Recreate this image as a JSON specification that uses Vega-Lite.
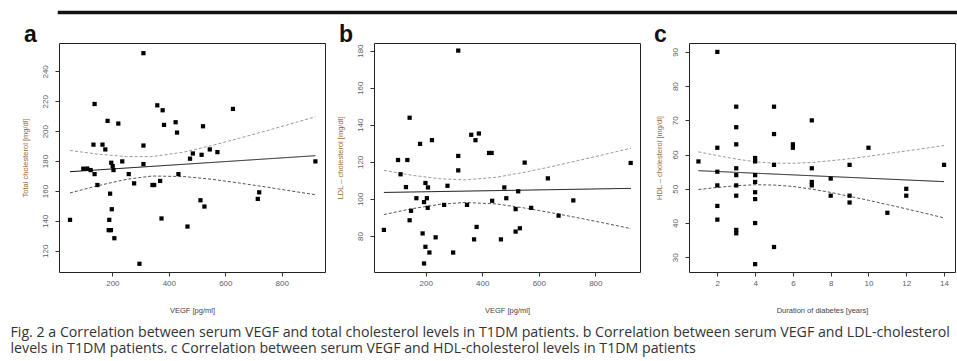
{
  "$schema": "https://vega.github.io/schema/vega-lite/v6.json",
  "autosize": {"type": "pad"},
  "padding": {"left": 10, "top": 10, "right": 0, "bottom": 4},
  "background": "white",
  "spacing": 8,
  "title": {
    "text": ["Fig. 2 a Correlation between serum VEGF and total cholesterol levels in T1DM patients. b Correlation between serum VEGF and LDL-cholesterol", "levels in T1DM patients. c Correlation between serum VEGF and HDL-cholesterol levels in T1DM patients"],
    "orient": "bottom",
    "anchor": "start",
    "frame": "bounds",
    "dx": -10,
    "offset": 7,
    "font": "Open Sans",
    "fontSize": 14.2,
    "fontWeight": "normal",
    "color": "#333333",
    "lineHeight": 16
  },
  "config": {
    "view": {"stroke": "#222", "strokeWidth": 1},
    "axis": {
      "grid": false,
      "domain": false,
      "ticks": true,
      "tickColor": "#333",
      "tickSize": 4,
      "tickCount": 20,
      "format": "d",
      "labelOverlap": false,
      "labelFont": "Liberation Sans",
      "labelFontSize": 8,
      "labelColor": "#5a6070",
      "titleFont": "Liberation Sans",
      "titleFontSize": 7.5,
      "titleFontWeight": "normal"
    },
    "axisX": {"labelPadding": 3, "titlePadding": 19, "titleColor": "#444"},
    "axisY": {"labelAngle": -90, "labelAlign": "center", "labelBaseline": "bottom", "labelPadding": 6, "titlePadding": 12, "titleColor": "#9a6a35"},
    "title": {"anchor": "start", "frame": "group", "dx": -35, "dy": 5, "fontSize": 23, "fontWeight": "bold", "font": "Liberation Sans", "color": "#111", "baseline": "alphabetic", "offset": 1}
  },
  "datasets": {
    "a_pts": [
      {"x": 50, "y": 140.7}, {"x": 97, "y": 174.9}, {"x": 111, "y": 175}, {"x": 123, "y": 174}, {"x": 133, "y": 191},
      {"x": 137, "y": 218.2}, {"x": 137, "y": 171.3}, {"x": 147, "y": 164}, {"x": 165, "y": 191}, {"x": 175, "y": 187.8},
      {"x": 183, "y": 206.9}, {"x": 192, "y": 158.2}, {"x": 196, "y": 178.9}, {"x": 198, "y": 147.8}, {"x": 189, "y": 140.7},
      {"x": 187, "y": 133.8}, {"x": 195, "y": 133.8}, {"x": 201, "y": 176.7}, {"x": 204, "y": 174}, {"x": 207, "y": 128.4},
      {"x": 221, "y": 205.1}, {"x": 235, "y": 179.8}, {"x": 258, "y": 171.3}, {"x": 277, "y": 165.1}, {"x": 296, "y": 111.3},
      {"x": 310, "y": 252.2}, {"x": 310, "y": 190.4}, {"x": 310, "y": 178}, {"x": 342, "y": 164}, {"x": 348, "y": 164},
      {"x": 359, "y": 217.3}, {"x": 369, "y": 166.7}, {"x": 374, "y": 141.6}, {"x": 378, "y": 214}, {"x": 383, "y": 204.2},
      {"x": 424, "y": 206}, {"x": 429, "y": 199.1}, {"x": 434, "y": 171.3}, {"x": 466, "y": 136.2}, {"x": 475, "y": 181.6},
      {"x": 485, "y": 185.1}, {"x": 512, "y": 153.8}, {"x": 516, "y": 184.2}, {"x": 521, "y": 203.3}, {"x": 526, "y": 149.6},
      {"x": 545, "y": 187.8}, {"x": 572, "y": 186}, {"x": 627, "y": 214.9}, {"x": 715, "y": 154.7}, {"x": 720, "y": 159.1},
      {"x": 919, "y": 179.8}
    ],
    "a_lines": [
      {"x": 50, "y": 172.9, "s": "fit"}, {"x": 919, "y": 183.6, "s": "fit"},
      {"x": 50, "y": 187.1, "s": "upper"}, {"x": 150, "y": 184.6, "s": "upper"}, {"x": 250, "y": 183.0, "s": "upper"}, {"x": 340, "y": 183.0, "s": "upper"}, {"x": 450, "y": 185.9, "s": "upper"}, {"x": 550, "y": 190.3, "s": "upper"}, {"x": 650, "y": 195.3, "s": "upper"}, {"x": 750, "y": 200.5, "s": "upper"}, {"x": 850, "y": 205.9, "s": "upper"}, {"x": 919, "y": 209.6, "s": "upper"},
      {"x": 50, "y": 158.7, "s": "lower"}, {"x": 150, "y": 163.6, "s": "lower"}, {"x": 250, "y": 167.8, "s": "lower"}, {"x": 340, "y": 170.0, "s": "lower"}, {"x": 450, "y": 169.7, "s": "lower"}, {"x": 550, "y": 167.9, "s": "lower"}, {"x": 650, "y": 165.3, "s": "lower"}, {"x": 750, "y": 162.5, "s": "lower"}, {"x": 850, "y": 159.5, "s": "lower"}, {"x": 919, "y": 157.5, "s": "lower"}
    ],
    "b_pts": [
      {"x": 52, "y": 83.3}, {"x": 102, "y": 121}, {"x": 111, "y": 113.3}, {"x": 130, "y": 106.4}, {"x": 135, "y": 121},
      {"x": 143, "y": 143.8}, {"x": 143, "y": 88.5}, {"x": 148, "y": 93.6}, {"x": 167, "y": 100.4}, {"x": 180, "y": 129.7},
      {"x": 189, "y": 81.4}, {"x": 194, "y": 98.3}, {"x": 194, "y": 65.2}, {"x": 199, "y": 108.6}, {"x": 199, "y": 74.2},
      {"x": 204, "y": 100.4}, {"x": 207, "y": 95.2}, {"x": 208, "y": 106.2}, {"x": 213, "y": 71.1}, {"x": 222, "y": 131.7},
      {"x": 235, "y": 79.3}, {"x": 265, "y": 96.8}, {"x": 277, "y": 107.1}, {"x": 297, "y": 71.1}, {"x": 315, "y": 180},
      {"x": 315, "y": 123.2}, {"x": 315, "y": 115.4}, {"x": 346, "y": 96.8}, {"x": 361, "y": 134.6}, {"x": 371, "y": 78.2},
      {"x": 376, "y": 131.7}, {"x": 380, "y": 84.9}, {"x": 388, "y": 135.3}, {"x": 424, "y": 124.8}, {"x": 433, "y": 124.8},
      {"x": 435, "y": 99}, {"x": 466, "y": 78.2}, {"x": 478, "y": 106.2}, {"x": 485, "y": 100.4}, {"x": 518, "y": 94.5},
      {"x": 518, "y": 82.4}, {"x": 527, "y": 104.1}, {"x": 533, "y": 84.2}, {"x": 550, "y": 119.6}, {"x": 573, "y": 95.2},
      {"x": 632, "y": 111.1}, {"x": 670, "y": 91.0}, {"x": 722, "y": 99.2}, {"x": 925, "y": 119.4}
    ],
    "b_lines": [
      {"x": 52, "y": 103.5, "s": "fit"}, {"x": 926, "y": 105.7, "s": "fit"},
      {"x": 52, "y": 115.4, "s": "upper"}, {"x": 150, "y": 112.8, "s": "upper"}, {"x": 250, "y": 110.9, "s": "upper"}, {"x": 340, "y": 110.3, "s": "upper"}, {"x": 450, "y": 111.7, "s": "upper"}, {"x": 550, "y": 114.4, "s": "upper"}, {"x": 650, "y": 117.6, "s": "upper"}, {"x": 750, "y": 121.1, "s": "upper"}, {"x": 850, "y": 124.6, "s": "upper"}, {"x": 926, "y": 127.4, "s": "upper"},
      {"x": 52, "y": 91.6, "s": "lower"}, {"x": 150, "y": 94.7, "s": "lower"}, {"x": 250, "y": 97.1, "s": "lower"}, {"x": 340, "y": 98.1, "s": "lower"}, {"x": 450, "y": 97.3, "s": "lower"}, {"x": 550, "y": 95.1, "s": "lower"}, {"x": 650, "y": 92.4, "s": "lower"}, {"x": 750, "y": 89.5, "s": "lower"}, {"x": 850, "y": 86.4, "s": "lower"}, {"x": 926, "y": 84.0, "s": "lower"}
    ],
    "c_pts": [
      {"x": 1, "y": 58}, {"x": 2, "y": 90}, {"x": 2, "y": 62}, {"x": 2, "y": 55}, {"x": 2, "y": 51}, {"x": 2, "y": 45}, {"x": 2, "y": 41},
      {"x": 3, "y": 74}, {"x": 3, "y": 68}, {"x": 3, "y": 63}, {"x": 3, "y": 56}, {"x": 3, "y": 54}, {"x": 3, "y": 51}, {"x": 3, "y": 48}, {"x": 3, "y": 38}, {"x": 3, "y": 37},
      {"x": 4, "y": 59}, {"x": 4, "y": 58}, {"x": 4, "y": 54}, {"x": 4, "y": 52}, {"x": 4, "y": 49}, {"x": 4, "y": 47}, {"x": 4, "y": 40}, {"x": 4, "y": 28},
      {"x": 5, "y": 74}, {"x": 5, "y": 66}, {"x": 5, "y": 57}, {"x": 5, "y": 33},
      {"x": 6, "y": 63}, {"x": 6, "y": 62},
      {"x": 7, "y": 70}, {"x": 7, "y": 56}, {"x": 7, "y": 52}, {"x": 7, "y": 51},
      {"x": 8, "y": 53}, {"x": 8, "y": 48},
      {"x": 9, "y": 57}, {"x": 9, "y": 48}, {"x": 9, "y": 46},
      {"x": 10, "y": 62}, {"x": 11, "y": 43}, {"x": 12, "y": 50}, {"x": 12, "y": 48}, {"x": 14, "y": 57}
    ],
    "c_lines": [
      {"x": 1, "y": 55.3, "s": "fit"}, {"x": 14, "y": 52.1, "s": "fit"},
      {"x": 1, "y": 60.8, "s": "upper"}, {"x": 2, "y": 59.7, "s": "upper"}, {"x": 3, "y": 58.7, "s": "upper"}, {"x": 4, "y": 57.9, "s": "upper"}, {"x": 5, "y": 57.5, "s": "upper"}, {"x": 6, "y": 57.45, "s": "upper"}, {"x": 7, "y": 57.7, "s": "upper"}, {"x": 8, "y": 58.2, "s": "upper"}, {"x": 9, "y": 58.8, "s": "upper"}, {"x": 10, "y": 59.5, "s": "upper"}, {"x": 11, "y": 60.3, "s": "upper"}, {"x": 12, "y": 61.05, "s": "upper"}, {"x": 13, "y": 61.85, "s": "upper"}, {"x": 14, "y": 62.66, "s": "upper"},
      {"x": 1, "y": 49.8, "s": "lower"}, {"x": 2, "y": 50.4, "s": "lower"}, {"x": 3, "y": 50.9, "s": "lower"}, {"x": 4, "y": 51.2, "s": "lower"}, {"x": 5, "y": 51.1, "s": "lower"}, {"x": 6, "y": 50.7, "s": "lower"}, {"x": 7, "y": 49.9, "s": "lower"}, {"x": 8, "y": 48.95, "s": "lower"}, {"x": 9, "y": 47.8, "s": "lower"}, {"x": 10, "y": 46.65, "s": "lower"}, {"x": 11, "y": 45.4, "s": "lower"}, {"x": 12, "y": 44.15, "s": "lower"}, {"x": 13, "y": 42.85, "s": "lower"}, {"x": 14, "y": 41.5, "s": "lower"}
    ]
  },
  "vconcat": [
    {
      "width": 936,
      "height": 1,
      "data": {"values": []},
      "mark": {"type": "rule"},
      "encoding": {},
      "view": {"stroke": "#111", "strokeWidth": 2.5, "fill": "#111"}
    },
    {
      "bounds": "flush",
      "spacing": 49,
      "hconcat": [
        {
          "title": "a",
          "width": 266,
          "height": 229,
          "layer": [
            {
              "data": {"name": "a_lines"},
              "mark": {"type": "line", "strokeWidth": 1},
              "encoding": {
                "x": {"field": "x", "type": "quantitative", "scale": {"domain": [11, 953], "nice": false, "zero": false}, "axis": {"values": [200, 400, 600, 800], "title": "VEGF [pg/ml]"}},
                "y": {"field": "y", "type": "quantitative", "scale": {"domain": [105.8, 259], "nice": false, "zero": false}, "axis": {"values": [120, 140, 160, 180, 200, 220, 240], "title": "Total cholesterol [mg/dl]"}},
                "detail": {"field": "s"},
                "color": {"field": "s", "type": "nominal", "scale": {"domain": ["fit", "upper", "lower"], "range": ["#111111", "#9a9a9a", "#555555"]}, "legend": null},
                "strokeDash": {"field": "s", "type": "nominal", "scale": {"domain": ["fit", "upper", "lower"], "range": [[1, 0], [3, 2], [3, 2]]}, "legend": null}
              }
            },
            {
              "data": {"name": "a_pts"},
              "mark": {"type": "point", "shape": "square", "filled": true, "size": 18, "color": "#000", "opacity": 1},
              "encoding": {
                "x": {"field": "x", "type": "quantitative"},
                "y": {"field": "y", "type": "quantitative"}
              }
            }
          ]
        },
        {
          "title": "b",
          "width": 266,
          "height": 229,
          "layer": [
            {
              "data": {"name": "b_lines"},
              "mark": {"type": "line", "strokeWidth": 1},
              "encoding": {
                "x": {"field": "x", "type": "quantitative", "scale": {"domain": [17, 958], "nice": false, "zero": false}, "axis": {"values": [200, 400, 600, 800], "title": "VEGF [pg/ml]"}},
                "y": {"field": "y", "type": "quantitative", "scale": {"domain": [60.6, 184.1], "nice": false, "zero": false}, "axis": {"values": [80, 100, 120, 140, 160, 180], "title": "LDL – cholesterol [mg/dl]"}},
                "detail": {"field": "s"},
                "color": {"field": "s", "type": "nominal", "scale": {"domain": ["fit", "upper", "lower"], "range": ["#111111", "#9a9a9a", "#555555"]}, "legend": null},
                "strokeDash": {"field": "s", "type": "nominal", "scale": {"domain": ["fit", "upper", "lower"], "range": [[1, 0], [3, 2], [3, 2]]}, "legend": null}
              }
            },
            {
              "data": {"name": "b_pts"},
              "mark": {"type": "point", "shape": "square", "filled": true, "size": 18, "color": "#000", "opacity": 1},
              "encoding": {
                "x": {"field": "x", "type": "quantitative"},
                "y": {"field": "y", "type": "quantitative"}
              }
            }
          ]
        },
        {
          "title": "c",
          "width": 266,
          "height": 229,
          "layer": [
            {
              "data": {"name": "c_lines"},
              "mark": {"type": "line", "strokeWidth": 1},
              "encoding": {
                "x": {"field": "x", "type": "quantitative", "scale": {"domain": [0.5, 14.58], "nice": false, "zero": false}, "axis": {"values": [2, 4, 6, 8, 10, 12, 14], "title": "Duration of diabetes [years]"}},
                "y": {"field": "y", "type": "quantitative", "scale": {"domain": [25.7, 92.6], "nice": false, "zero": false}, "axis": {"values": [30, 40, 50, 60, 70, 80, 90], "title": "HDL – cholesterol [mg/dl]", "titlePadding": 8}},
                "detail": {"field": "s"},
                "color": {"field": "s", "type": "nominal", "scale": {"domain": ["fit", "upper", "lower"], "range": ["#111111", "#9a9a9a", "#555555"]}, "legend": null},
                "strokeDash": {"field": "s", "type": "nominal", "scale": {"domain": ["fit", "upper", "lower"], "range": [[1, 0], [3, 2], [3, 2]]}, "legend": null}
              }
            },
            {
              "data": {"name": "c_pts"},
              "mark": {"type": "point", "shape": "square", "filled": true, "size": 18, "color": "#000", "opacity": 1},
              "encoding": {
                "x": {"field": "x", "type": "quantitative"},
                "y": {"field": "y", "type": "quantitative"}
              }
            }
          ]
        }
      ]
    }
  ]
}
